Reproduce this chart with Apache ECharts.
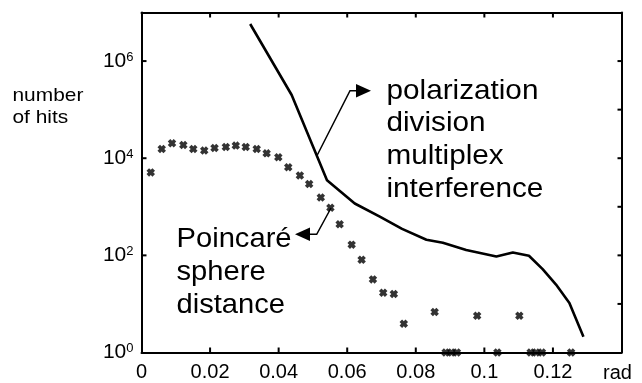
<!DOCTYPE html>
<html>
<head>
<meta charset="utf-8">
<script src="https://cdn.jsdelivr.net/npm/echarts@6/dist/echarts.min.js"></script>
<style>
html,body{margin:0;padding:0;background:#fff;}
#c{width:642px;height:383px;}
</style>
</head>
<body>
<div id="c"></div>
<script>
// ---- data ----
var xTicks = [0, 0.02, 0.04, 0.06, 0.08, 0.1, 0.12];
var yTickExponents = [0, 2, 4, 6];
var rightTickExponents = [1, 2, 3, 4, 5, 6];

// Poincaré sphere distance (scatter, "x" markers)
var poincareX = [0.0027, 0.0059, 0.0089, 0.0122, 0.0151, 0.0183, 0.0213, 0.0246, 0.0275, 0.0304,
                 0.0336, 0.0365, 0.0399, 0.0428, 0.0462, 0.0489, 0.0523, 0.0551, 0.0578, 0.0613,
                 0.0642, 0.0675, 0.0705, 0.0736, 0.0765, 0.0855, 0.0887, 0.0904, 0.0920, 0.0979,
                 0.1038, 0.1102, 0.1135, 0.1151, 0.1168, 0.1253];
var poincareY = [5100, 15500, 20300, 18700, 15500, 14400, 16200, 17000, 18200, 17000,
                 15500, 12600, 10500, 6500, 4400, 2950, 1550, 955, 437, 166,
                 81, 32, 17, 16, 3.9, 6.8, 1, 1, 1, 5.7,
                 1, 5.7, 1, 1, 1, 1];

// polarization division multiplex interference (line)
var pdmX = [0.0317, 0.0438, 0.0541, 0.0622, 0.0695, 0.0760, 0.0831, 0.0879, 0.0947, 0.1035,
            0.1083, 0.1130, 0.1170, 0.1209, 0.1248, 0.1289];
var pdmY = [5.8e6, 2.0e5, 3500, 1170, 630, 350, 209, 182, 129, 95,
            115, 98, 52, 25, 10.5, 2.1];

// ---- build ----
function zip(a, b) { return a.map(function (v, i) { return [v, b[i]]; }); }

var chart = echarts.init(document.getElementById('c'));
var FONT = '"Liberation Sans", Arial, Helvetica, sans-serif';
var crossPath = 'path://M0,3 L3,0 L5,2 L7,0 L10,3 L8,5 L10,7 L7,10 L5,8 L3,10 L0,7 L2,5 Z';
var axisLineStyle = {color: '#000', width: 2};

function xLabel(v) {
  for (var i = 0; i < xTicks.length; i++) {
    if (Math.abs(v - xTicks[i]) < 1e-9) return String(xTicks[i]);
  }
  return '';
}
function yLabel(v) {
  var e = Math.round(Math.log(v) / Math.LN10);
  if (yTickExponents.indexOf(e) < 0) return '';
  return '{b|10}{s|' + e + '}';
}

// tick specs: [x, y, side] side 0=bottom 1=top 2=left 3=right
var tickData = [];
xTicks.forEach(function (t) {
  if (t <= 0) return;
  tickData.push([t, 1, 0]);
  tickData.push([t, 1e7, 1]);
});
yTickExponents.forEach(function (e) {
  if (e <= 0) return;
  tickData.push([0, Math.pow(10, e), 2]);
});
rightTickExponents.forEach(function (e) {
  tickData.push([0.14, Math.pow(10, e), 3]);
});

function renderTick(params, api) {
  var p = api.coord([api.value(0), api.value(1)]);
  var side = api.value(2);
  var dx = 0, dy = 0;
  if (side === 0) dy = -5;
  else if (side === 1) dy = 5;
  else if (side === 2) dx = 5;
  else dx = -4;
  return {
    type: 'line',
    shape: {x1: p[0], y1: p[1], x2: p[0] + dx, y2: p[1] + dy},
    style: {stroke: '#000', lineWidth: 2}
  };
}

function txt(x, y, s, size, sx) {
  return {type: 'text', x: x, y: y, scaleX: sx || 1, z: 50,
          style: {text: s, font: size + 'px ' + FONT, fill: '#000'}};
}

chart.setOption({
  animation: false,
  backgroundColor: '#fff',
  grid: {left: 141.5, right: 20.5, top: 12.5, bottom: 30.5},
  xAxis: [{
    type: 'value', min: 0, max: 0.14, interval: 0.02, position: 'bottom',
    axisLine: {show: true, onZero: false, lineStyle: axisLineStyle},
    axisTick: {show: false},
    axisLabel: {show: true, color: '#000', fontSize: 20, fontFamily: FONT, margin: 10, formatter: xLabel},
    splitLine: {show: false}
  }, {
    type: 'value', min: 0, max: 0.14, interval: 0.02, position: 'top',
    axisLine: {show: true, onZero: false, lineStyle: axisLineStyle},
    axisTick: {show: false}, axisLabel: {show: false}, splitLine: {show: false}
  }],
  yAxis: [{
    type: 'log', min: 1, max: 1e7, interval: 2, position: 'left',
    axisLine: {show: true, onZero: false, lineStyle: axisLineStyle},
    axisTick: {show: false},
    axisLabel: {
      show: true, margin: 8, formatter: yLabel,
      rich: {
        b: {fontSize: 21, fontFamily: FONT, color: '#000'},
        s: {fontSize: 13, fontFamily: FONT, color: '#000', verticalAlign: 'top'}
      }
    },
    splitLine: {show: false}
  }, {
    type: 'log', min: 1, max: 1e7, interval: 1, position: 'right',
    axisLine: {show: true, onZero: false, lineStyle: axisLineStyle},
    axisTick: {show: false}, axisLabel: {show: false}, splitLine: {show: false}
  }],
  series: [{
    name: 'polarization division multiplex interference',
    type: 'line', xAxisIndex: 0, yAxisIndex: 0,
    data: zip(pdmX, pdmY),
    showSymbol: false, symbol: 'none',
    lineStyle: {color: '#000', width: 2.6}
  }, {
    name: 'Poincaré sphere distance',
    type: 'scatter', xAxisIndex: 0, yAxisIndex: 0,
    data: zip(poincareX, poincareY),
    symbol: crossPath, symbolSize: 8.5,
    itemStyle: {color: '#000'}
  }, {
    name: 'box ticks',
    type: 'custom', xAxisIndex: 0, yAxisIndex: 0,
    data: tickData, renderItem: renderTick,
    clip: false, silent: true, z: 10
  }],
  graphic: {elements: [
    txt(12.5, 86, 'number', 19, 1.1),
    txt(12.5, 108, 'of hits', 19, 1.1),
    txt(603, 363, 'rad', 20),
    txt(386.5, 77, 'polarization', 27.5, 1.08),
    txt(386.5, 109.5, 'division', 27.5, 1.08),
    txt(386.5, 142, 'multiplex', 27.5, 1.08),
    txt(386.5, 175.5, 'interference', 27.5, 1.08),
    {type: 'polyline', z: 50, shape: {points: [[317.3, 155], [350, 90.7], [357, 90.7]]},
     style: {stroke: '#000', lineWidth: 1.5, fill: null}},
    {type: 'polygon', z: 50, shape: {points: [[356, 84], [371, 90.7], [356, 97.5]]}, style: {fill: '#000'}},
    txt(176.5, 225, 'Poincaré', 27.5, 1.06),
    txt(176.5, 258, 'sphere', 27.5, 1.06),
    txt(176.5, 291, 'distance', 27.5, 1.06),
    {type: 'polyline', z: 50, shape: {points: [[331, 208], [316.7, 234.3], [309, 234.3]]},
     style: {stroke: '#000', lineWidth: 1.5, fill: null}},
    {type: 'polygon', z: 50, shape: {points: [[310, 227.5], [295, 234.3], [310, 241]]}, style: {fill: '#000'}}
  ]}
});
</script>
</body>
</html>
